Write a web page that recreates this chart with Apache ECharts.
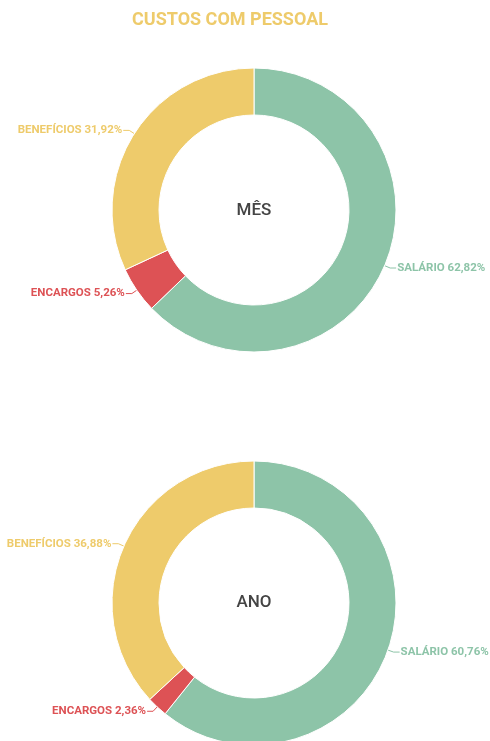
<!DOCTYPE html>
<html>
<head>
<meta charset="utf-8">
<script src="https://cdn.jsdelivr.net/npm/echarts@6/dist/echarts.min.js"></script>
<style>
  html, body { margin: 0; padding: 0; background: #fff; }
  #chart { width: 490px; height: 741px; }
</style>
</head>
<body>
<div id="chart"></div>
<script>
// dados
const categorias = ['SALÁRIO', 'ENCARGOS', 'BENEFÍCIOS']
const valoresMes = [62.82, 5.26, 31.92]
const valoresAno = [60.76, 2.36, 36.88]
const cores = ['#8dc4a8', '#dd5255', '#eecb6b']

const chart = echarts.init(document.getElementById('chart'))

function montarDados(valores) {
  return categorias.map((nome, i) => ({
    name: nome,
    value: valores[i],
    itemStyle: { color: cores[i] },
    label: { color: cores[i] }
  }))
}

function serie(centroY, valores) {
  return {
    type: 'pie',
    center: [254, centroY],
    radius: [95, 142],
    startAngle: 90,
    clockwise: true,
    avoidLabelOverlap: false,
    animation: false,
    itemStyle: { borderColor: '#fff', borderWidth: 1 },
    label: {
      show: true,
      fontFamily: 'Roboto',
      fontWeight: 'bold',
      fontSize: 11.5,
      distanceToLabelLine: 1,
      formatter: p => p.name + ' ' + p.value.toFixed(2).replace('.', ',') + '%'
    },
    labelLine: {
      show: true,
      length: 6,
      length2: 6,
      lineStyle: { width: 1 }
    },
    emphasis: { disabled: true },
    data: montarDados(valores)
  }
}

chart.setOption({
  backgroundColor: '#fff',
  graphic: [
    {
      type: 'text',
      x: 230,
      y: 20,
      style: {
        text: 'CUSTOS COM PESSOAL',
        fill: '#eecb6b',
        font: 'bold 18px Roboto',
        align: 'center',
        verticalAlign: 'middle'
      }
    },
    {
      type: 'text',
      x: 254,
      y: 211,
      style: {
        text: 'MÊS',
        fill: '#444',
        font: '500 17px Roboto',
        align: 'center',
        verticalAlign: 'middle'
      }
    },
    {
      type: 'text',
      x: 254,
      y: 603,
      style: {
        text: 'ANO',
        fill: '#444',
        font: '500 17px Roboto',
        align: 'center',
        verticalAlign: 'middle'
      }
    }
  ],
  series: [
    serie(210, valoresMes),
    serie(603, valoresAno)
  ]
})
</script>
</body>
</html>
